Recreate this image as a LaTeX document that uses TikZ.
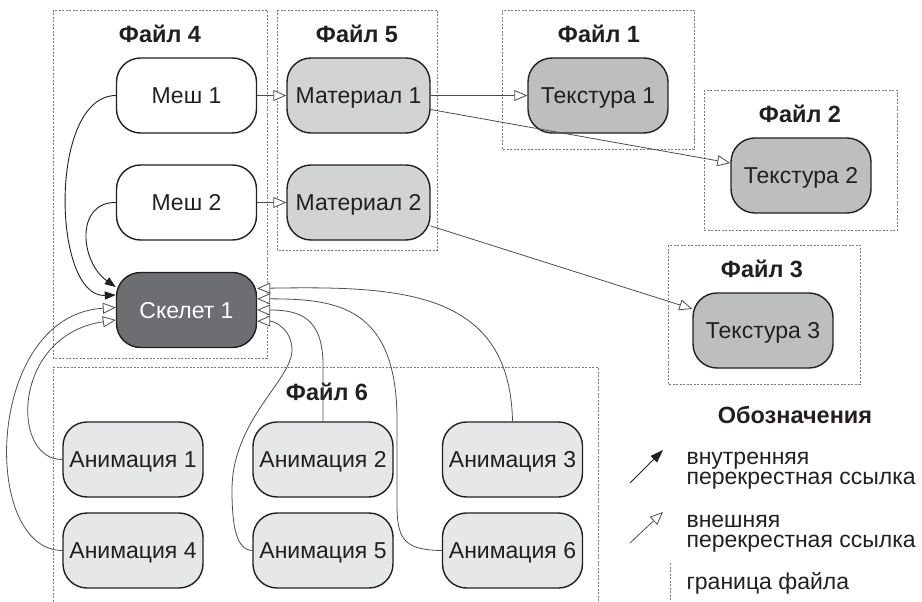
\documentclass[tikz,border=0pt]{standalone}
\usepackage{fontspec}
\setmainfont{Liberation Sans}
\usetikzlibrary{arrows.meta}

\definecolor{ink}{HTML}{231F20}
\definecolor{linegray}{HTML}{4D4D4F}
\definecolor{framegray}{HTML}{7A7A7C}
\definecolor{matgray}{HTML}{D1D3D4}
\definecolor{texgray}{HTML}{BCBEC0}
\definecolor{skelgray}{HTML}{6D6E71}
\definecolor{animgray}{HTML}{E6E7E8}

\begin{document}
\begin{tikzpicture}[x=1pt, y=-1pt,
		box/.style={draw=ink, line width=1.4pt, rounded corners=24pt, minimum width=140pt, minimum height=75pt, inner sep=3pt, text height=16.5pt, text depth=0pt, text=ink, font=\fontsize{23}{26}\selectfont},
		mesh/.style={box, fill=white},
		material/.style={box, fill=matgray, minimum width=143pt},
		texture/.style={box, fill=texgray},
		skeleton/.style={box, fill=skelgray, text=white},
		anim/.style={box, fill=animgray},
		title/.style={anchor=base, text=ink, font=\fontsize{23.5}{26}\selectfont\bfseries},
		frame/.style={draw=framegray, line width=0.8pt, dash pattern=on 2pt off 1.5pt},
		intref/.style={draw=ink, line width=0.9pt, -{Triangle[length=11pt, width=8pt]}},
		extref/.style={draw=linegray, line width=0.8pt, -{Triangle[length=13pt, width=11pt, fill=white]}},
		legend/.style={anchor=base west, align=left, text=ink, font=\fontsize{23}{20}\selectfont}]
		\useasboundingbox (0,0) rectangle (922,602);
		\draw[frame] (53,10) rectangle (267,358);
		\draw[frame] (277,10) rectangle (437,250);
		\draw[frame] (502,10) rectangle (694,149);
		\draw[frame] (704,90) rectangle (897,230);
		\draw[frame] (668,245) rectangle (860,384);
		\draw[frame] (53,612) |- (598,367) -- (598,612);
		\draw[frame] (670,563) -- (670,612);
		\draw[color=ink]
		node[title] (file_4) at (160,43) {Файл 4}
		node[title] (file_5) at (357,43) {Файл 5}
		node[title] (file_1) at (599,43) {Файл 1}
		node[title] (file_2) at (800,123) {Файл 2}
		node[title] (file_3) at (762,277) {Файл 3}
		node[title] (file_6) at (327,400) {Файл 6}
		node[mesh] (mesh_1) at (186.5,95.5) {Меш 1}
		node[mesh] (mesh_2) at (186.5,202.5) {Меш 2}
		node[skeleton] (skeleton) at (186.5,310) {Скелет 1}
		node[material] (material_1) at (358.5,95.5) {Материал 1}
		node[material] (material_2) at (358.5,202.5) {Материал 2}
		node[texture] (texture_1) at (598,95.5) {Текстура 1}
		node[texture] (texture_2) at (801,175.5) {Текстура 2}
		node[texture] (texture_3) at (763,330.5) {Текстура 3}
		node[anim] (anim_1) at (133,459.5) {Анимация 1}
		node[anim] (anim_2) at (323,459.5) {Анимация 2}
		node[anim] (anim_3) at (512.5,459.5) {Анимация 3}
		node[anim] (anim_4) at (133,550.5) {Анимация 4}
		node[anim] (anim_5) at (323,550.5) {Анимация 5}
		node[anim] (anim_6) at (512.5,550.5) {Анимация 6};
		\draw[intref] (mesh_1.west) .. controls (48,96) and (52,298) .. (skeleton.168);
		\draw[intref] (mesh_2.west) .. controls (75,202) and (80,262) .. (skeleton.162);
		\draw[extref] (mesh_1) -- (material_1);
		\draw[extref] (mesh_2) -- (material_2);
			\draw[extref] (material_1) -- (texture_1);
			\draw[extref] (material_1.349) -- (texture_2.170);
			\draw[extref] (material_2.342) -- (texture_3.163);
		\draw[extref] (anim_1.west) .. controls (10,460) and (12,335) .. (skeleton.188);
		\draw[extref] (anim_4.west) .. controls (-20,550) and (-15,315) .. (skeleton.178);
		\draw[extref] (anim_3.north) .. controls (510,290) and (400,286) .. (skeleton.17);
		\draw[extref] (anim_6.west) .. controls (405,550) and (397,540) .. (397,505) -- (397,420) .. controls (397,305) and (335,299) .. (skeleton.9);
		\draw[extref] (anim_2.north) -- (323,365) .. controls (323,318) and (300,310) .. (skeleton.east);
		\draw[extref] (anim_5.west) .. controls (236,550) and (232,525) .. (232,490) .. controls (232,420) and (292,380) .. (292,350) .. controls (292,330) and (275,321) .. (skeleton.351);
		\node[title] (legend_title) at (795,423) {Обозначения};
		\coordinate (int_tail) at (630,483);
		\coordinate (int_head) at (663,450);
		\coordinate (ext_tail) at (630,543);
		\coordinate (ext_head) at (663,512);
		\draw[intref, -{Triangle[length=13pt, width=9pt]}] (int_tail) -- (int_head);
		\draw[extref] (ext_tail) -- (ext_head);
		\node[legend] (int_text) at (683,484) {внутренняя\\перекрестная ссылка};
		\node[legend] (ext_text) at (683,547) {внешняя\\перекрестная ссылка};
		\node[legend] (frame_text) at (683,589) {граница файла};
\end{tikzpicture}
\end{document}
